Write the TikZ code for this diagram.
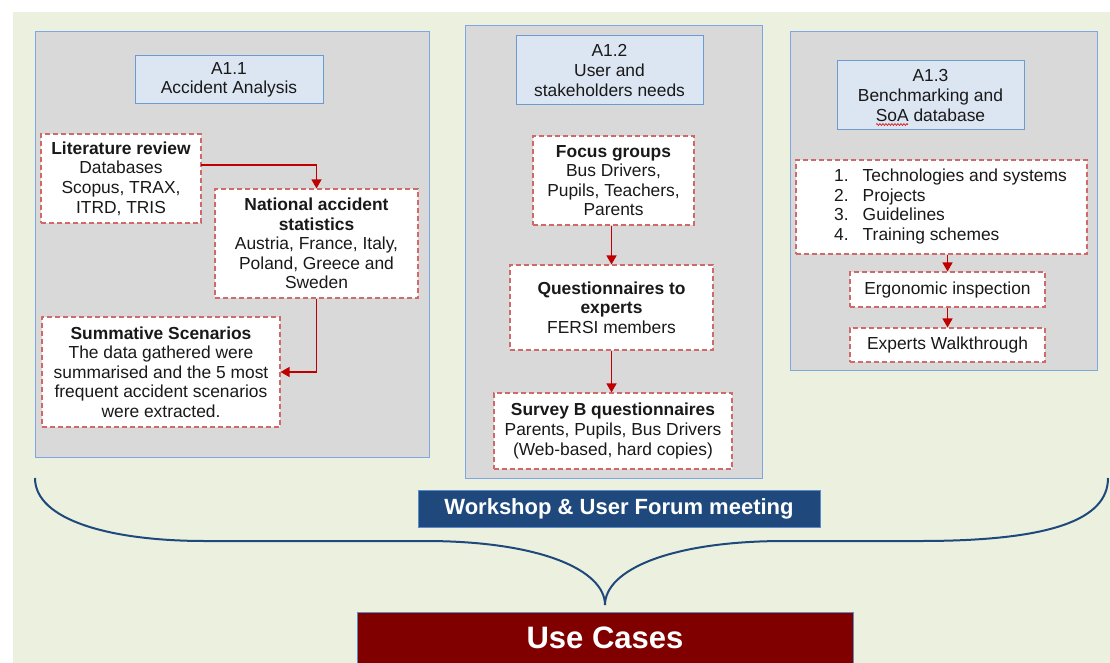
\documentclass[tikz,border=0pt]{standalone}
\usepackage{fontspec}
\setmainfont{Liberation Sans}
\usetikzlibrary{arrows.meta,decorations.pathmorphing}
\definecolor{bgg}{HTML}{EBF1DE}
\definecolor{pgray}{HTML}{D9D9D9}
\definecolor{pblue}{HTML}{7EA6E0}
\definecolor{hfill}{HTML}{DCE6F2}
\definecolor{hborder}{HTML}{6C9BD2}
\definecolor{dred}{HTML}{D06A6A}
\definecolor{ared}{HTML}{C00000}
\definecolor{navy}{HTML}{1F497D}
\definecolor{maroon}{HTML}{800000}
\definecolor{bedge}{HTML}{5B8BC9}
\begin{document}
\begin{tikzpicture}[x=1pt,y=-1pt,
  base/.style={inner sep=0pt,align=center,font=\fontsize{17.4}{19.6}\selectfont,text=black!90},
  panel/.style={base,fill=pgray,draw=pblue,line width=1pt},
  hdr/.style={base,fill=hfill,draw=hborder,line width=1pt},
  dbox/.style={base,fill=white,draw=dred,line width=1.1pt,dash pattern=on 5pt off 3pt},
  arr/.style={draw=ared,line width=1.3pt,-{Triangle[length=9pt,width=10pt]}},
  brace/.style={draw=navy,line width=2pt},
  banner/.style={inner sep=0pt,align=center,text=white,draw=bedge,line width=0.8pt}]
\useasboundingbox (0,0) rectangle (1110,663);
\fill[bgg] (13,12) rectangle (1110,663);
% panels
\node[panel,minimum width=394pt,minimum height=425pt] (p1) at (232,244.5) {};
\node[panel,minimum width=297pt,minimum height=452pt] (p2) at (613.5,252) {};
\node[panel,minimum width=307pt,minimum height=338pt] (p3) at (943.5,201) {};
% headers
\node[hdr,minimum width=188pt,minimum height=48pt] (h1) at (229,80) {A1.1\\Accident Analysis};
\node[hdr,minimum width=187pt,minimum height=69pt] (h2) at (609.5,70.5) {A1.2\\User and\\stakeholders needs};
\node[hdr,minimum width=187pt,minimum height=69pt] (h3) at (930.5,95.5) {A1.3\\Benchmarking and\\SoA database};
\coordinate (sq1) at (876,124.5);
\coordinate (sq2) at (908,124.5);
\draw[red!85!black,line width=0.6pt,decorate,decoration={snake,amplitude=0.9pt,segment length=3pt}] (sq1) -- (sq2);
% left panel boxes
\node[dbox,minimum width=160pt,minimum height=89pt] (lit) at (121,178.5)
  {\textbf{Literature review}\\Databases\\Scopus, TRAX,\\ITRD, TRIS};
\node[dbox,minimum width=203pt,minimum height=109pt] (nat) at (316.5,243.5)
  {\textbf{National accident}\\\textbf{statistics}\\Austria, France, Italy,\\Poland, Greece and\\Sweden};
\node[dbox,minimum width=238pt,minimum height=110pt] (summ) at (161,372)
  {\textbf{Summative Scenarios}\\The data gathered were\\summarised and the 5 most\\frequent accident scenarios\\were extracted.};
\coordinate (litout) at (201,165);
\draw[arr] (litout) -| (nat.north);
\draw[arr] (nat.south) |- (summ.east);
% middle panel boxes
\node[dbox,minimum width=161pt,minimum height=89pt] (focus) at (613.5,180.5)
  {\textbf{Focus groups}\\Bus Drivers,\\Pupils, Teachers,\\Parents};
\node[dbox,minimum width=203pt,minimum height=85pt] (quest) at (611.5,307.5)
  {\textbf{Questionnaires to}\\\textbf{experts}\\FERSI members};
\node[dbox,minimum width=238pt,minimum height=76pt] (survey) at (613,431)
  {\textbf{Survey B questionnaires}\\Parents, Pupils, Bus Drivers\\(Web-based, hard copies)};
\draw[arr] (focus.south -| quest.north) -- (quest.north);
\draw[arr] (quest.south) -- (quest.south |- survey.north);
% right panel boxes
\node[dbox,minimum width=291pt,minimum height=94pt] (list) at (941.5,207)
  {\hspace*{18pt}\begin{tabular}{@{}l@{\hspace{14pt}}l@{}}1.&Technologies and systems\\2.&Projects\\3.&Guidelines\\4.&Training schemes\end{tabular}};
\node[dbox,minimum width=195pt,minimum height=35pt] (ergo) at (947.5,289.5) {Ergonomic inspection};
\node[dbox,minimum width=195pt,minimum height=34pt] (walk) at (947.5,345) {Experts Walkthrough};
\draw[arr] (ergo.north |- list.south) -- (ergo.north);
\draw[arr] (ergo.south) -- (walk.north);
% brace
\coordinate (bl) at (35,478);
\coordinate (br) at (1108,478);
\coordinate (tip) at (605,605);
\draw[brace] (bl) .. controls (35,520) and (110,541) .. (205,541) -- (425,541)
  .. controls (540,541) and (605,570) .. (tip);
\draw[brace] (br) .. controls (1108,520) and (1050,541) .. (920,541) -- (785,541)
  .. controls (670,541) and (605,570) .. (tip);
% banners
\node[banner,fill=navy,minimum width=402pt,minimum height=37pt,font=\fontsize{22}{26}\selectfont\bfseries] (ws) at (619,508.5) {Workshop \& User Forum meeting};
\node[banner,fill=maroon,minimum width=496pt,minimum height=51pt,font=\fontsize{31}{36}\selectfont\bfseries] (uc) at (605,637.5) {Use Cases};
\end{tikzpicture}
\end{document}
